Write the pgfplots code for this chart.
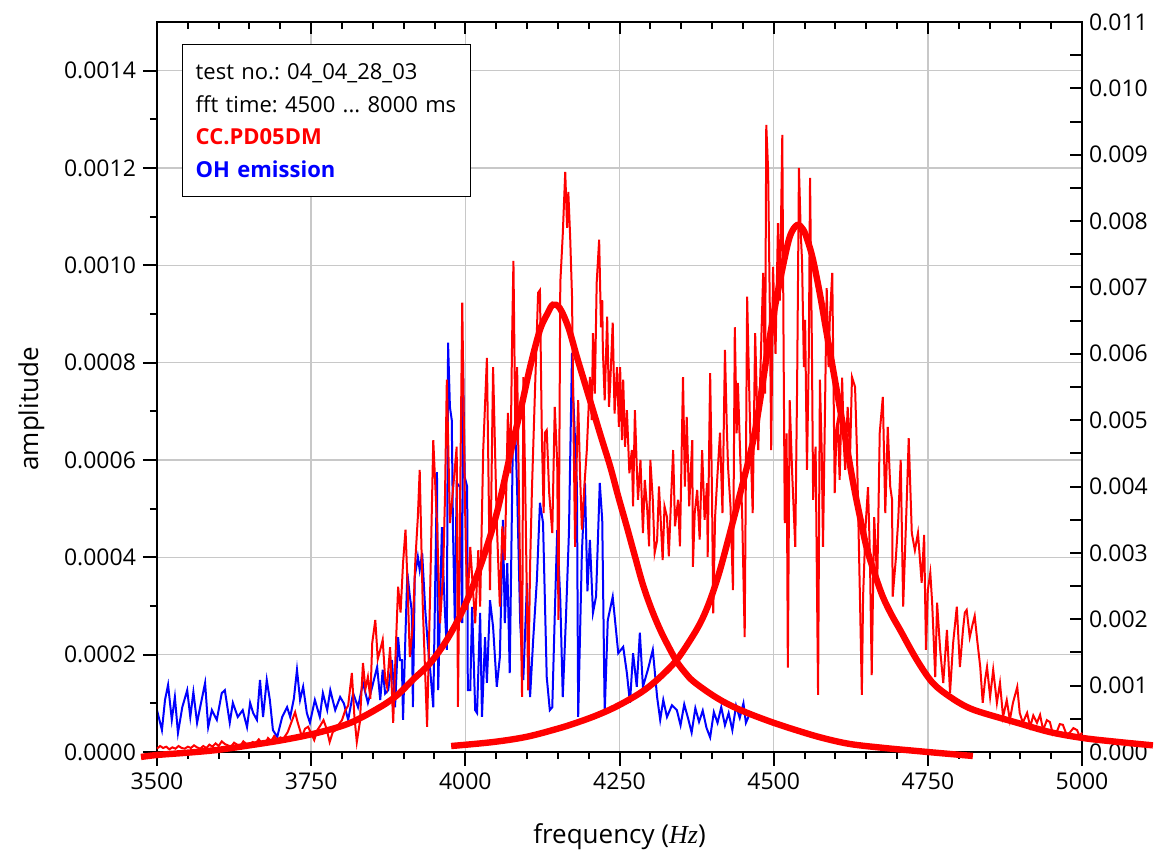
\documentclass[border=0pt]{standalone}
\usepackage{pgfplots}
\pgfplotsset{compat=1.18}
\usepackage{fontspec}
\setmainfont{Open Sans}
\newfontfamily\serifit{Liberation Serif}
\frenchspacing

\definecolor{gridgray}{RGB}{200,200,200}

\begin{document}
\begin{tikzpicture}
\pgfplotsset{
  every axis/.append style={
    scale only axis, width=462.5pt, height=365pt,
    at={(0,0)}, anchor=south west,
    xmin=3500, xmax=5000,
    axis line style={line width=1.1pt},
    every tick/.style={black, line width=1pt},
    tick label style={font=\fontsize{11.5}{13}\selectfont},
    scaled x ticks=false, scaled y ticks=false,
    /pgf/number format/assume math mode=true,
    /pgf/number format/set thousands separator={},
  },
}
% left axis: OH emission
\begin{axis}[
  name=ax1,
  ymin=0, ymax=0.0015,
  xtick={3500,3750,4000,4250,4500,4750,5000},
  minor x tick num=4,
  ytick={0,0.0002,0.0004,0.0006,0.0008,0.0010,0.0012,0.0014},
  minor y tick num=1,
  yticklabel style={/pgf/number format/.cd, fixed, fixed zerofill, precision=4},
  xtick pos=bottom, ytick pos=left,
  tick align=outside,
  major tick length=7pt, minor tick length=3.5pt,
  grid=major,
  major grid style={gridgray, line width=0.8pt},
  xlabel={frequency ({\serifit\itshape Hz})},
  xlabel style={font=\fontsize{13}{15}\selectfont, yshift=-10pt},
  ylabel={amplitude},
  ylabel style={font=\fontsize{13}{15}\selectfont, at={(ticklabel cs:0.47)}, yshift=3pt},
]
\addplot[blue, line width=1pt] coordinates {
(3500,0.86e-4) (3508,0.45e-4) (3513,1.07e-4) (3518,1.38e-4) (3524,0.66e-4)
(3529,1.13e-4) (3534,0.39e-4) (3541,0.92e-4) (3549,1.27e-4) (3554,0.72e-4)
(3559,1.23e-4) (3565,0.60e-4) (3570,0.92e-4) (3578,1.42e-4) (3583,0.51e-4)
(3589,0.86e-4) (3597,0.66e-4) (3605,1.21e-4) (3610,1.27e-4) (3618,0.60e-4)
(3623,1.01e-4) (3631,0.72e-4) (3639,0.86e-4) (3646,0.51e-4) (3651,1.01e-4)
(3656,0.80e-4) (3662,0.66e-4) (3667,1.48e-4) (3672,0.72e-4) (3678,1.48e-4)
(3683,1.07e-4) (3688,0.45e-4) (3695,0.31e-4) (3703,0.72e-4) (3711,0.92e-4)
(3716,0.72e-4) (3722,1.10e-4) (3727,1.69e-4) (3732,1.07e-4) (3737,1.34e-4)
(3743,0.80e-4) (3748,0.60e-4) (3756,1.07e-4) (3764,0.72e-4) (3769,1.21e-4)
(3776,0.86e-4) (3781,1.27e-4) (3789,0.86e-4) (3797,1.13e-4) (3803,1.00e-4)
(3810,0.66e-4) (3818,1.21e-4) (3826,0.92e-4) (3834,1.42e-4) (3842,1.01e-4)
(3849,1.34e-4) (3857,1.75e-4) (3862,1.07e-4) (3866,1.69e-4) (3870,1.20e-4)
(3875,1.27e-4) (3881,1.89e-4) (3886,0.92e-4) (3891,2.36e-4) (3894,1.89e-4)
(3897,1.89e-4) (3899,0.66e-4) (3903,2.45e-4) (3906,3.68e-4) (3910,3.20e-4)
(3913,2.92e-4) (3915,0.92e-4) (3918,3.60e-4) (3923,4.01e-4) (3926,3.74e-4)
(3930,4.09e-4) (3935,2.92e-4) (3939,2.24e-4) (3943,1.69e-4) (3948,0.92e-4)
(3954,5.75e-4) (3956,1.27e-4) (3962,4.62e-4) (3964,3.80e-4) (3967,2.86e-4)
(3970,2.10e-4) (3972,8.41e-4) (3975,7.09e-4) (3978,6.82e-4) (3980,4.56e-4)
(3983,2.65e-4) (3986,5.53e-4) (3991,5.45e-4) (3995,2.65e-4) (3996,8.20e-4)
(3999,5.65e-4) (4003,5.45e-4) (4004,1.27e-4) (4008,1.27e-4) (4011,2.98e-4)
(4016,0.86e-4) (4019,0.80e-4) (4024,2.86e-4) (4027,0.72e-4) (4032,2.36e-4)
(4035,1.42e-4) (4040,3.12e-4) (4045,2.57e-4) (4051,1.34e-4) (4056,1.95e-4)
(4061,4.77e-4) (4064,2.65e-4) (4068,3.88e-4) (4072,1.62e-4) (4077,6.35e-4)
(4081,6.62e-4) (4084,5.38e-4) (4089,2.65e-4) (4094,1.48e-4) (4100,3.47e-4)
(4105,1.13e-4) (4110,2.30e-4) (4116,3.53e-4) (4121,5.12e-4) (4126,4.71e-4)
(4132,1.54e-4) (4137,0.86e-4) (4141,0.92e-4) (4145,2.80e-4) (4149,4.56e-4)
(4154,3.12e-4) (4158,1.13e-4) (4163,2.70e-4) (4168,4.50e-4) (4173,8.20e-4)
(4175,7.30e-4) (4181,5.45e-4) (4183,0.72e-4) (4189,4.09e-4) (4194,5.53e-4)
(4198,3.30e-4) (4202,4.36e-4) (4207,2.86e-4) (4212,3.20e-4) (4218,5.53e-4)
(4222,4.77e-4) (4226,0.80e-4) (4231,2.71e-4) (4239,3.19e-4) (4248,2.03e-4)
(4256,2.16e-4) (4262,1.62e-4) (4267,1.01e-4) (4272,2.03e-4) (4278,1.34e-4)
(4283,2.45e-4) (4288,1.34e-4) (4296,1.69e-4) (4304,2.10e-4) (4311,1.13e-4)
(4316,0.66e-4) (4321,1.07e-4) (4327,0.72e-4) (4335,0.96e-4) (4343,0.86e-4)
(4349,0.55e-4) (4355,0.98e-4) (4361,0.70e-4) (4367,0.40e-4) (4373,0.90e-4)
(4379,0.62e-4) (4385,0.85e-4) (4391,0.50e-4) (4397,0.30e-4) (4403,0.82e-4)
(4409,0.60e-4) (4415,0.92e-4) (4421,0.55e-4) (4427,0.80e-4) (4433,0.45e-4)
(4439,0.95e-4) (4445,0.70e-4) (4451,1.00e-4) (4455,0.60e-4) (4460,0.75e-4)
};
\end{axis}
% right axis: CC.PD05DM and its two fits
\begin{axis}[
  ymin=0, ymax=0.011,
  clip=false,
  xtick={3500,3750,4000,4250,4500,4750,5000},
  minor x tick num=4,
  xticklabel=\empty,
  ytick={0,0.0005,0.001,0.0015,0.002,0.0025,0.003,0.0035,0.004,0.0045,0.005,0.0055,0.006,0.0065,0.007,0.0075,0.008,0.0085,0.009,0.0095,0.010,0.0105,0.011},
  yticklabels={0.000,,0.001,,0.002,,0.003,,0.004,,0.005,,0.006,,0.007,,0.008,,0.009,,0.010,,0.011},
  xtick pos=top, ytick pos=right,
  tick align=inside,
  major tick length=6pt, minor tick length=3.5pt,
]
\addplot[red, line width=1pt] coordinates {
(3500,0.05e-3) (3505,0.09e-3) (3510,0.06e-3) (3515,0.08e-3) (3520,0.04e-3)
(3525,0.07e-3) (3530,0.05e-3) (3535,0.09e-3) (3540,0.06e-3) (3545,0.05e-3)
(3550,0.08e-3) (3555,0.06e-3) (3560,0.10e-3) (3565,0.07e-3) (3570,0.05e-3)
(3575,0.09e-3) (3580,0.06e-3) (3585,0.11e-3) (3590,0.08e-3) (3595,0.13e-3)
(3600,0.09e-3) (3605,0.16e-3) (3610,0.12e-3) (3615,0.10e-3) (3620,0.08e-3)
(3625,0.14e-3) (3630,0.11e-3) (3635,0.09e-3) (3640,0.16e-3) (3645,0.12e-3)
(3650,0.10e-3) (3655,0.15e-3) (3660,0.13e-3) (3665,0.19e-3) (3670,0.14e-3)
(3675,0.12e-3) (3680,0.21e-3) (3685,0.16e-3) (3690,0.24e-3) (3695,0.18e-3)
(3700,0.22e-3) (3705,0.20e-3) (3712,0.30e-3) (3718,0.45e-3) (3724,0.60e-3)
(3728,0.45e-3) (3735,0.23e-3) (3740,0.35e-3) (3745,0.38e-3) (3750,0.28e-3)
(3755,0.18e-3) (3760,0.33e-3) (3765,0.40e-3) (3770,0.48e-3) (3775,0.35e-3)
(3780,0.15e-3) (3785,0.30e-3) (3790,0.33e-3) (3795,0.42e-3) (3800,0.48e-3)
(3805,0.62e-3) (3810,0.70e-3) (3816,1.19e-3) (3820,0.55e-3) (3824,0.15e-3)
(3829,0.45e-3) (3834,1.34e-3) (3838,0.95e-3) (3842,1.13e-3) (3846,0.80e-3)
(3849,1.64e-3) (3854,1.99e-3) (3858,1.40e-3) (3862,1.54e-3) (3866,1.69e-3)
(3870,1.10e-3) (3873,0.98e-3) (3878,1.58e-3) (3883,0.44e-3) (3887,1.50e-3)
(3891,2.49e-3) (3895,2.10e-3) (3899,2.85e-3) (3903,3.35e-3) (3906,2.60e-3)
(3910,1.43e-3) (3915,1.94e-3) (3919,2.90e-3) (3923,3.54e-3) (3926,4.25e-3)
(3931,2.19e-3) (3938,0.38e-3) (3943,2.44e-3) (3948,4.70e-3) (3954,3.45e-3)
(3959,1.94e-3) (3964,2.70e-3) (3967,3.84e-3) (3970,5.61e-3) (3975,3.45e-3)
(3980,3.95e-3) (3986,4.60e-3) (3988,0.68e-3) (3995,6.77e-3) (3999,3.95e-3)
(4003,2.14e-3) (4008,3.09e-3) (4012,2.50e-3) (4016,1.94e-3) (4021,3.04e-3)
(4024,2.19e-3) (4029,4.55e-3) (4035,5.94e-3) (4040,2.44e-3) (4045,5.80e-3)
(4051,3.45e-3) (4056,2.19e-3) (4060,3.40e-3) (4064,2.89e-3) (4069,5.11e-3)
(4073,4.20e-3) (4076,6.31e-3) (4078,7.40e-3) (4081,4.90e-3) (4084,5.80e-3)
(4088,3.20e-3) (4092,0.83e-3) (4094,5.65e-3) (4097,4.10e-3) (4100,2.19e-3)
(4102,0.93e-3) (4105,2.80e-3) (4108,3.95e-3) (4113,5.46e-3) (4118,6.92e-3)
(4121,6.96e-3) (4124,4.81e-3) (4127,3.60e-3) (4129,4.81e-3) (4132,4.85e-3)
(4136,3.90e-3) (4141,3.30e-3) (4145,5.20e-3) (4149,4.36e-3) (4151,1.99e-3)
(4154,7.07e-3) (4158,7.80e-3) (4162,8.74e-3) (4165,7.90e-3) (4167,8.44e-3)
(4170,7.76e-3) (4173,6.86e-3) (4176,4.50e-3) (4178,3.09e-3) (4181,4.60e-3)
(4183,5.30e-3) (4186,4.20e-3) (4189,3.35e-3) (4193,4.00e-3) (4197,4.55e-3)
(4200,5.20e-3) (4202,5.65e-3) (4205,5.00e-3) (4207,6.31e-3) (4210,5.40e-3)
(4213,7.07e-3) (4217,7.72e-3) (4220,6.40e-3) (4222,6.81e-3) (4223,6.06e-3)
(4226,5.30e-3) (4230,6.56e-3) (4233,5.20e-3) (4235,5.56e-3) (4239,6.47e-3)
(4242,5.10e-3) (4246,5.80e-3) (4249,4.90e-3) (4251,5.80e-3) (4254,4.70e-3)
(4256,5.61e-3) (4259,4.60e-3) (4262,5.15e-3) (4266,4.20e-3) (4270,4.55e-3)
(4272,3.70e-3) (4275,5.15e-3) (4278,4.30e-3) (4280,3.80e-3) (4284,4.40e-3)
(4288,3.30e-3) (4291,4.10e-3) (4295,3.65e-3) (4298,3.10e-3) (4300,4.40e-3)
(4304,3.80e-3) (4307,3.00e-3) (4311,3.19e-3) (4314,4.00e-3) (4316,3.65e-3)
(4320,2.89e-3) (4323,3.70e-3) (4327,3.54e-3) (4330,2.95e-3) (4334,3.90e-3)
(4337,4.55e-3) (4340,3.40e-3) (4345,3.80e-3) (4348,3.10e-3) (4353,5.65e-3)
(4356,4.00e-3) (4359,5.05e-3) (4363,3.70e-3) (4368,4.70e-3) (4369,2.79e-3)
(4372,3.60e-3) (4376,3.95e-3) (4380,3.20e-3) (4384,4.55e-3) (4388,3.50e-3)
(4392,4.05e-3) (4393,2.94e-3) (4397,5.71e-3) (4400,3.90e-3) (4402,2.09e-3)
(4405,3.54e-3) (4409,4.20e-3) (4413,4.81e-3) (4417,3.60e-3) (4421,6.06e-3)
(4424,4.90e-3) (4426,4.30e-3) (4430,3.70e-3) (4434,2.44e-3) (4437,6.40e-3)
(4440,4.80e-3) (4442,5.56e-3) (4446,4.40e-3) (4449,3.54e-3) (4453,1.73e-3)
(4457,6.86e-3) (4460,5.60e-3) (4462,4.81e-3) (4466,3.60e-3) (4470,6.31e-3)
(4473,5.20e-3) (4475,4.55e-3) (4479,5.90e-3) (4483,7.22e-3) (4486,5.40e-3)
(4488,9.45e-3) (4491,8.77e-3) (4494,6.50e-3) (4496,4.55e-3) (4499,7.31e-3)
(4503,6.00e-3) (4507,7.97e-3) (4510,6.80e-3) (4514,9.30e-3) (4516,6.20e-3)
(4518,3.45e-3) (4521,4.80e-3) (4523,1.27e-3) (4526,5.30e-3) (4530,4.20e-3)
(4535,3.09e-3) (4538,5.50e-3) (4541,8.80e-3) (4544,7.80e-3) (4546,7.41e-3)
(4549,5.80e-3) (4551,6.51e-3) (4554,4.25e-3) (4557,6.00e-3) (4559,8.65e-3)
(4562,6.10e-3) (4564,3.80e-3) (4568,4.60e-3) (4572,0.86e-3) (4575,5.61e-3)
(4578,4.50e-3) (4580,3.09e-3) (4583,5.00e-3) (4586,6.99e-3) (4589,5.80e-3)
(4591,6.51e-3) (4595,7.22e-3) (4597,5.60e-3) (4599,3.90e-3) (4602,4.90e-3)
(4604,5.00e-3) (4607,4.10e-3) (4611,5.64e-3) (4614,4.60e-3) (4616,4.25e-3)
(4620,5.20e-3) (4624,4.50e-3) (4627,5.65e-3) (4632,5.50e-3) (4635,4.55e-3)
(4640,2.29e-3) (4643,0.86e-3) (4645,2.34e-3) (4649,3.40e-3) (4653,3.99e-3)
(4656,3.00e-3) (4659,1.16e-3) (4663,3.54e-3) (4668,2.55e-3) (4672,4.81e-3)
(4677,5.35e-3) (4681,3.60e-3) (4685,4.90e-3) (4689,4.00e-3) (4692,3.80e-3)
(4693,2.34e-3) (4698,2.90e-3) (4702,3.50e-3) (4706,4.40e-3) (4710,2.19e-3)
(4716,3.84e-3) (4719,4.73e-3) (4724,3.30e-3) (4729,3.04e-3) (4734,3.30e-3)
(4740,2.55e-3) (4744,3.27e-3) (4747,1.54e-3) (4750,2.44e-3) (4754,2.70e-3)
(4757,2.25e-3) (4762,1.13e-3) (4765,2.25e-3) (4770,1.54e-3) (4775,1.04e-3)
(4781,1.84e-3) (4786,0.89e-3) (4791,1.64e-3) (4797,2.19e-3) (4802,1.28e-3)
(4807,1.84e-3) (4810,2.10e-3) (4813,2.14e-3) (4818,1.73e-3) (4823,1.94e-3)
(4826,2.05e-3) (4830,1.69e-3) (4835,1.28e-3) (4839,0.74e-3) (4843,1.10e-3)
(4846,1.28e-3) (4851,0.83e-3) (4856,1.24e-3) (4862,0.74e-3) (4867,1.04e-3)
(4872,0.53e-3) (4878,0.78e-3) (4883,0.48e-3) (4888,0.74e-3) (4895,0.98e-3)
(4899,0.59e-3) (4904,0.44e-3) (4911,0.59e-3) (4916,0.38e-3) (4921,0.55e-3)
(4927,0.44e-3) (4932,0.56e-3) (4937,0.33e-3) (4943,0.48e-3) (4948,0.45e-3)
(4953,0.26e-3) (4959,0.30e-3) (4964,0.42e-3) (4969,0.41e-3) (4975,0.26e-3)
(4980,0.29e-3) (4986,0.36e-3) (4992,0.33e-3) (4996,0.24e-3) (5000,0.29e-3)
};
% fit of the lower peak
\addplot[red, line width=3.2pt, smooth, tension=0.55] coordinates {
(3474,-0.075e-3) (3500,-0.045e-3) (3550,-0.01e-3) (3597,0.03e-3) (3650,0.10e-3)
(3704,0.18e-3) (3759,0.286e-3) (3813,0.437e-3) (3862,0.678e-3) (3890,0.86e-3)
(3915,1.09e-3) (3943,1.34e-3) (3970,1.69e-3) (3996,2.14e-3) (4024,2.79e-3)
(4051,3.60e-3) (4077,4.66e-3) (4092,5.25e-3) (4105,5.80e-3) (4121,6.36e-3)
(4134,6.62e-3) (4142,6.74e-3) (4153,6.69e-3) (4167,6.40e-3) (4181,5.95e-3)
(4194,5.55e-3) (4207,5.15e-3) (4221,4.72e-3) (4235,4.30e-3) (4248,3.85e-3)
(4262,3.39e-3) (4275,2.95e-3) (4288,2.52e-3) (4302,2.15e-3) (4316,1.84e-3)
(4330,1.58e-3) (4343,1.36e-3) (4356,1.20e-3) (4369,1.07e-3) (4397,0.88e-3)
(4424,0.73e-3) (4457,0.59e-3) (4500,0.44e-3) (4543,0.31e-3) (4580,0.21e-3)
(4624,0.12e-3) (4680,0.06e-3) (4732,0.015e-3) (4780,-0.025e-3) (4823,-0.06e-3)
};
% fit of the upper peak
\addplot[red, line width=3.2pt, smooth, tension=0.55] coordinates {
(3977,0.09e-3) (4045,0.15e-3) (4100,0.23e-3) (4153,0.36e-3) (4180,0.44e-3)
(4207,0.53e-3) (4235,0.64e-3) (4262,0.77e-3) (4290,0.93e-3) (4316,1.13e-3)
(4343,1.39e-3) (4369,1.75e-3) (4384,2.00e-3) (4397,2.29e-3) (4411,2.68e-3)
(4424,3.12e-3) (4445,3.87e-3) (4466,4.66e-3) (4478,5.30e-3) (4489,5.98e-3)
(4501,6.65e-3) (4513,7.23e-3) (4526,7.76e-3) (4538,7.94e-3) (4548,7.87e-3)
(4556,7.68e-3) (4564,7.41e-3) (4575,6.90e-3) (4586,6.31e-3) (4597,5.73e-3)
(4608,5.15e-3) (4619,4.58e-3) (4629,4.05e-3) (4640,3.54e-3) (4651,3.07e-3)
(4664,2.68e-3) (4677,2.34e-3) (4691,2.07e-3) (4705,1.84e-3) (4732,1.39e-3)
(4758,1.04e-3) (4786,0.83e-3) (4813,0.68e-3) (4839,0.59e-3) (4895,0.44e-3)
(4948,0.30e-3) (5002,0.21e-3) (5060,0.15e-3) (5115,0.10e-3)
};
\node[draw=black, line width=0.75pt, fill=white, anchor=north west, align=left,
  text width=131pt, inner xsep=6.5pt, inner ysep=9.5pt,
  font=\fontsize{11}{16.25}\selectfont]
  at (rel axis cs:0.027,0.970)
  {test no.: 04\_04\_28\_03\\
   fft time: 4500 ... 8000 ms\\
   \textcolor{red}{\bfseries CC.PD05DM}\\
   \textcolor{blue}{\bfseries OH emission}};
\end{axis}
\pgfresetboundingbox
\path ([shift={(-78.5pt,-52pt)}]ax1.south west) rectangle ([shift={(38pt,11pt)}]ax1.north east);
\end{tikzpicture}
\end{document}
